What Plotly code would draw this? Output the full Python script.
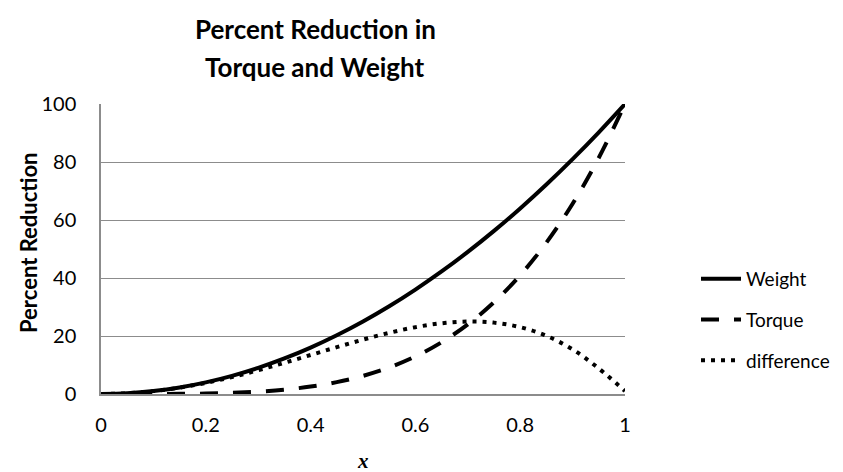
import plotly.graph_objects as go

x_vals = [0, 0.05, 0.1, 0.15, 0.2, 0.25, 0.3, 0.35, 0.4, 0.45, 0.5,
          0.55, 0.6, 0.65, 0.7, 0.75, 0.8, 0.85, 0.9, 0.95, 1]
weight = [0, 0.25, 1, 2.25, 4, 6.25, 9, 12.25, 16, 20.25, 25,
          30.25, 36, 42.25, 49, 56.25, 64, 72.25, 81, 90.25, 100]
torque = [0, 0.01, 0.01, 0.05, 0.16, 0.39, 0.81, 1.5, 2.56, 4.1, 6.25,
          9.15, 12.96, 17.85, 24.01, 31.64, 40.96, 52.2, 65.61, 81.45, 100]
difference = [0, 0.24, 0.99, 2.2, 3.84, 5.86, 8.19, 10.75, 13.44, 16.15, 18.75,
              21.1, 23.04, 24.4, 24.99, 24.61, 23.04, 20.05, 15.39, 8.8, 1]

FONT = "Lato"
# page has 8px body margin; figure coordinates = screen - 8
OFF = 8
L, R, T, B = 101 - OFF, 625 - OFF, 104 - OFF, 394 - OFF
W, H = 843 - OFF, 472 - OFF
PW, PH = R - L, B - T


def px(sx):
    return (sx - OFF - L) / PW


def py(sy):
    return (B - (sy - OFF)) / PH


fig = go.Figure()
fig.add_trace(go.Scatter(x=x_vals, y=weight, name="Weight", mode="lines", legendgroup="a",
                         line=dict(color="black", width=4, shape="spline")))
fig.add_trace(go.Scatter(x=x_vals, y=torque, name="Torque", mode="lines", legendgroup="b",
                         line=dict(color="black", width=4, shape="spline", dash="18px,15px")))
fig.add_trace(go.Scatter(x=x_vals, y=difference, name="difference", mode="lines", legendgroup="c",
                         line=dict(color="black", width=4, shape="spline", dash="4px,6px")))

fig.update_layout(
    width=W, height=H,
    margin=dict(l=L, r=W - R, t=T, b=H - B, autoexpand=False),
    paper_bgcolor="white", plot_bgcolor="white",
    font=dict(family=FONT, size=20, color="black"),
    showlegend=True,
    legend=dict(x=px(696), y=py(320), xanchor="left", yanchor="middle",
                font=dict(family=FONT, size=19, color="black"),
                tracegroupgap=13, itemwidth=40, bgcolor="rgba(0,0,0,0)"),
    xaxis=dict(range=[0, 1], tickvals=[0, 0.2, 0.4, 0.6, 0.8, 1],
               ticktext=["0", "0.2", "0.4", "0.6", "0.8", "1"],
               showgrid=False, zeroline=False, showline=True,
               linecolor="#8c8c8c", linewidth=1.5,
               ticks="outside", ticklen=12, tickcolor="rgba(0,0,0,0)",
               tickfont=dict(family=FONT, size=20), automargin=False),
    yaxis=dict(range=[0, 100], tickvals=[0, 20, 40, 60, 80, 100],
               showgrid=True, gridcolor="#8c8c8c", gridwidth=1.2,
               zeroline=False, showline=True, linecolor="#8c8c8c", linewidth=1.5,
               ticks="outside", ticklen=19, tickcolor="rgba(0,0,0,0)",
               tickfont=dict(family=FONT, size=20), automargin=False),
    annotations=[
        dict(text="<b>Percent Reduction in</b>", xref="paper", yref="paper",
             x=px(315), y=py(29), xanchor="center", yanchor="middle",
             showarrow=False, font=dict(family=FONT, size=26, color="black")),
        dict(text="<b>Torque and Weight</b>", xref="paper", yref="paper",
             x=px(315), y=py(67), xanchor="center", yanchor="middle",
             showarrow=False, font=dict(family=FONT, size=26, color="black")),
        dict(text="<b>Percent Reduction</b>", xref="paper", yref="paper",
             x=px(28), y=py(243), xanchor="center", yanchor="middle",
             textangle=-90, showarrow=False, font=dict(family=FONT, size=22, color="black")),
        dict(text="<b><i>x</i></b>", xref="paper", yref="paper",
             x=px(363), y=py(461), xanchor="center", yanchor="middle",
             showarrow=False, font=dict(family="Liberation Serif", size=21, color="black")),
    ],
)

fig.write_html("out.html")
